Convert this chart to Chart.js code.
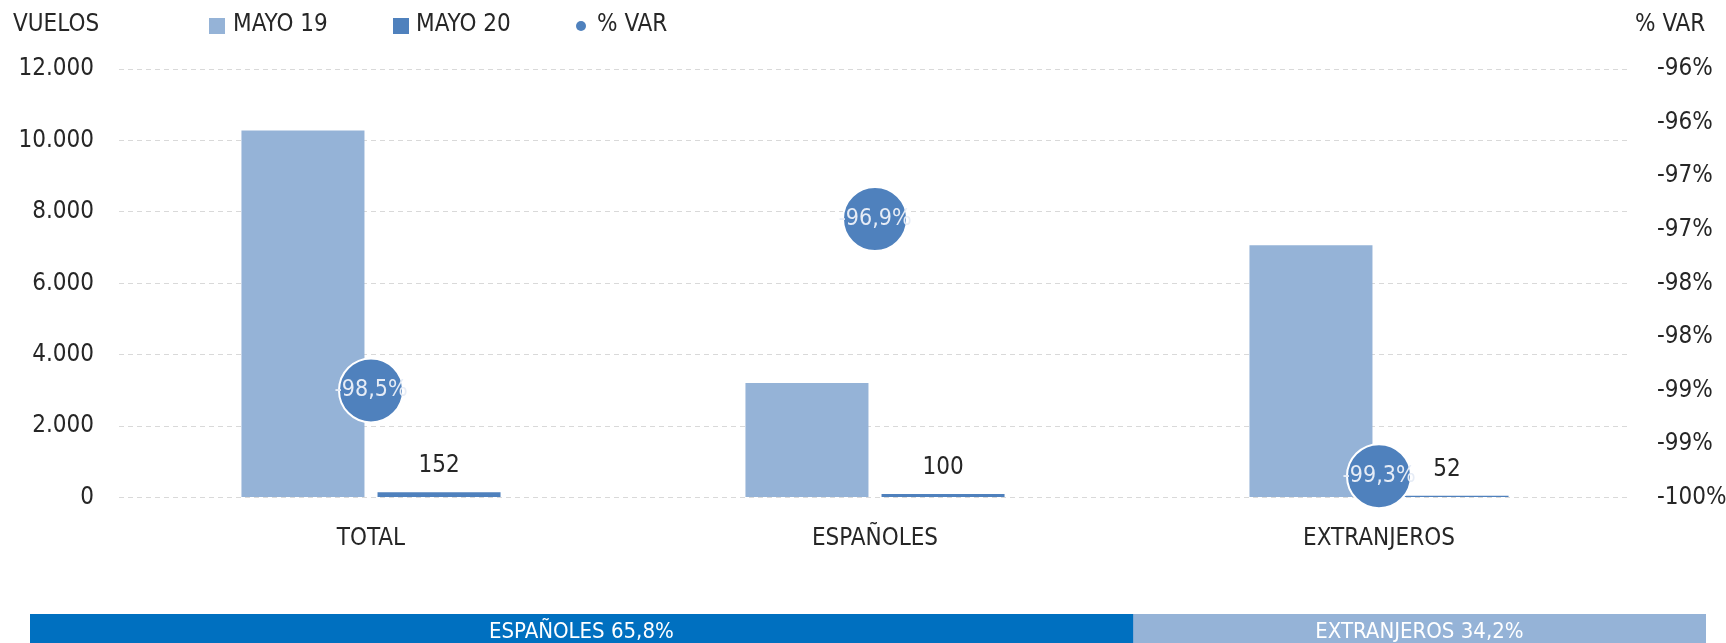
<!DOCTYPE html>
<html>
<head>
<meta charset="utf-8">
<script src="https://cdn.jsdelivr.net/npm/chart.js@4.4.1/dist/chart.umd.min.js"></script>
<style>
html, body { margin: 0; padding: 0; background: #fff; overflow: hidden; }
#main { position: absolute; left: 0; top: 0; width: 1726px; height: 600px; }
#band { position: absolute; left: 30px; top: 614px; width: 1676px; height: 36px; }
</style>
</head>
<body>
<div id="main"><canvas id="chart_vuelos"></canvas></div>
<div id="band"><canvas id="chart_cuota"></canvas></div>
<script>
const categories = ["TOTAL", "ESPAÑOLES", "EXTRANJEROS"];
const mayo19 = [10275, 3210, 7065];
const mayo20 = [152, 100, 52];
const var_pct = [-98.5, -96.9, -99.3];
const vuelos_ticks = ["0", "2.000", "4.000", "6.000", "8.000", "10.000", "12.000"];
const var_ticks = ["-100%", "-99%", "-99%", "-98%", "-98%", "-97%", "-97%", "-96%", "-96%"];
const share_labels = ["ESPAÑOLES 65,8%", "EXTRANJEROS 34,2%"];
const share_values = [65.8, 34.2];

const FONT = "'Liberation Sans Narrow', 'Arial Narrow', 'DejaVu Sans Condensed', sans-serif";
const TEXT = '#262626';
const LIGHT = '#95b3d7';
const DARK = '#4f81bd';

// porcentajes con coma decimal
const fmt_pct = v => v.toFixed(1).replace('.', ',') + '%';

const extras = {
    id: 'extras',
    afterDatasetsDraw(chart) {
        const ctx = chart.ctx;
        ctx.save();
        ctx.textAlign = 'center';
        ctx.textBaseline = 'middle';

        // valores encima de MAYO 20
        ctx.font = `24px ${FONT}`;
        ctx.fillStyle = TEXT;
        chart.getDatasetMeta(1).data.forEach((bar, i) => {
            ctx.fillText(String(mayo20[i]), bar.x, bar.y - 26);
        });

        // % VAR dentro de los circulos
        ctx.font = `23px ${FONT}`;
        ctx.fillStyle = '#e6ecf6';
        chart.getDatasetMeta(2).data.forEach((pt, i) => {
            ctx.fillText(fmt_pct(var_pct[i]), pt.x, pt.y);
        });
        ctx.restore();
    },
    afterDraw(chart) {
        const ctx = chart.ctx;
        const ds = chart.data.datasets;
        ctx.save();
        ctx.textBaseline = 'middle';
        ctx.textAlign = 'left';
        ctx.font = `24px ${FONT}`;
        ctx.fillStyle = TEXT;
        ctx.fillText('VUELOS', 13, 25);
        ctx.fillText('% VAR', 1635, 25);

        ctx.fillStyle = ds[0].backgroundColor;
        ctx.fillRect(209, 18, 16, 16);
        ctx.fillStyle = ds[1].backgroundColor;
        ctx.fillRect(393, 18, 16, 16);
        ctx.fillStyle = ds[2].pointBackgroundColor;
        ctx.beginPath();
        ctx.arc(581, 26, 5, 0, Math.PI * 2);
        ctx.fill();

        ctx.fillStyle = TEXT;
        ctx.fillText(ds[0].label, 233, 25);
        ctx.fillText(ds[1].label, 416, 25);
        ctx.fillText(ds[2].label, 597, 25);
        ctx.restore();
    }
};

new Chart(document.getElementById('chart_vuelos'), {
    type: 'bar',
    data: {
        labels: categories,
        datasets: [
            {
                label: 'MAYO 19',
                data: mayo19,
                backgroundColor: LIGHT,
                barPercentage: 0.904,
                categoryPercentage: 0.54,
                yAxisID: 'y',
                order: 1
            },
            {
                label: 'MAYO 20',
                data: mayo20,
                backgroundColor: DARK,
                barPercentage: 0.904,
                categoryPercentage: 0.54,
                yAxisID: 'y',
                order: 1
            },
            {
                type: 'line',
                label: '% VAR',
                data: var_pct,
                yAxisID: 'y1',
                showLine: false,
                pointRadius: 32,
                pointHoverRadius: 32,
                pointBackgroundColor: DARK,
                pointBorderColor: '#ffffff',
                pointBorderWidth: 2,
                clip: false,
                order: 0
            }
        ]
    },
    options: {
        responsive: true,
        maintainAspectRatio: false,
        animation: false,
        events: [],
        layout: { padding: { top: 69, left: 0, right: 0, bottom: 0 } },
        plugins: {
            legend: { display: false },
            tooltip: { enabled: false }
        },
        scales: {
            x: {
                grid: { display: false },
                border: { display: false },
                ticks: { color: TEXT, font: { family: FONT, size: 24 }, padding: 19 },
                afterFit(scale) { scale.height = 102.4; }
            },
            y: {
                position: 'left',
                min: 0,
                max: 12000,
                ticks: {
                    stepSize: 2000,
                    color: TEXT,
                    font: { family: FONT, size: 24 },
                    padding: 25,
                    callback: (v, i) => vuelos_ticks[i]
                },
                grid: { color: '#d9d9d9', lineWidth: 1, drawTicks: false },
                border: { display: false, dash: [5, 4] },
                afterFit(scale) { scale.width = 119; }
            },
            y1: {
                position: 'right',
                min: -99.5,
                max: -95.5,
                ticks: {
                    stepSize: 0.5,
                    color: TEXT,
                    font: { family: FONT, size: 24 },
                    padding: 26,
                    callback: (v, i) => var_ticks[i]
                },
                grid: { display: false, drawTicks: false },
                border: { display: false },
                afterFit(scale) { scale.width = 95; }
            }
        }
    },
    plugins: [extras]
});

const band_labels = {
    id: 'band_labels',
    afterDatasetsDraw(chart) {
        const ctx = chart.ctx;
        ctx.save();
        ctx.textAlign = 'center';
        ctx.textBaseline = 'middle';
        ctx.font = `22px ${FONT}`;
        ctx.fillStyle = '#ffffff';
        chart.data.datasets.forEach((ds, i) => {
            const bar = chart.getDatasetMeta(i).data[0];
            ctx.fillText(ds.label, (bar.x + bar.base) / 2, bar.y);
        });
        ctx.restore();
    }
};

new Chart(document.getElementById('chart_cuota'), {
    type: 'bar',
    data: {
        labels: [''],
        datasets: [
            { label: share_labels[0], data: [share_values[0]], backgroundColor: '#0070c0', barPercentage: 1, categoryPercentage: 1 },
            { label: share_labels[1], data: [share_values[1]], backgroundColor: LIGHT, barPercentage: 1, categoryPercentage: 1 }
        ]
    },
    options: {
        indexAxis: 'y',
        responsive: true,
        maintainAspectRatio: false,
        animation: false,
        events: [],
        layout: { padding: 0 },
        plugins: { legend: { display: false }, tooltip: { enabled: false } },
        scales: {
            x: { stacked: true, display: false, min: 0, max: 100 },
            y: { stacked: true, display: false }
        }
    },
    plugins: [band_labels]
});
</script>
</body>
</html>
